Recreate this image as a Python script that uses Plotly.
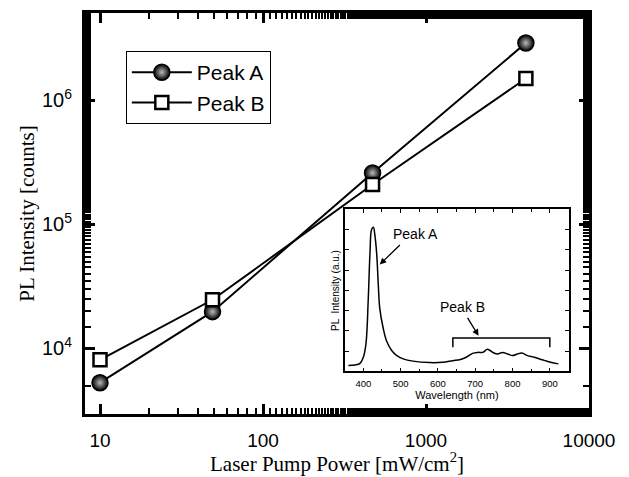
import plotly.graph_objects as go

# Main data
power = [10, 49, 470, 4100]
peak_a = [5300, 19800, 260000, 2900000]
peak_b = [8100, 24700, 210000, 1500000]
y_tickvals = [1e4, 1e5, 1e6]
y_ticktext = ["10<sup>4</sup>", "10<sup>5</sup>", "10<sup>6</sup>"]
x_tickvals = [10, 100, 1000, 10000]
x_ticktext = ["10", "100", "1000", "10000"]
x_title = "Laser Pump Power [mW/cm<sup>2</sup>]"
y_title = "PL Intensity [counts]"

# Inset spectrum
wavelength = [360, 378, 391, 400, 407, 413, 418, 422, 427, 431, 436, 440, 444, 453, 462, 476, 489, 507, 533,
              578, 613, 640, 658, 676, 693, 707, 720, 733, 747, 760, 773, 787, 800, 813, 825, 840, 858, 880, 902, 923]
intensity = [0.037, 0.040, 0.050, 0.088, 0.17, 0.435, 0.742, 0.875, 0.89, 0.84, 0.72, 0.54, 0.39, 0.27, 0.19,
             0.13, 0.10, 0.078, 0.064, 0.055, 0.057, 0.067, 0.072, 0.088, 0.112, 0.118, 0.118, 0.137, 0.118,
             0.108, 0.118, 0.108, 0.098, 0.108, 0.114, 0.098, 0.088, 0.072, 0.057, 0.047]
bracket_x = [640, 640, 900, 900]
bracket_y = [0.149, 0.207, 0.207, 0.149]

fig = go.Figure()
fig.add_trace(go.Scatter(
    x=power, y=peak_a, mode="lines+markers", name="Peak A",
    line=dict(color="black", width=2),
    marker=dict(symbol="circle", size=16, color="black",
                gradient=dict(type="radial", color="#bbbbbb"),
                line=dict(color="black", width=1.5)),
))
fig.add_trace(go.Scatter(
    x=power, y=peak_b, mode="lines+markers", name="Peak B",
    line=dict(color="black", width=2),
    marker=dict(symbol="square", size=13, color="white",
                line=dict(color="black", width=2.5)),
))

fig.add_trace(go.Scatter(
    x=wavelength, y=intensity, mode="lines", line=dict(color="black", width=1.5, shape="spline"),
    xaxis="x2", yaxis="y2", showlegend=False,
))
fig.add_trace(go.Scatter(
    x=bracket_x, y=bracket_y, mode="lines", line=dict(color="black", width=1.5),
    xaxis="x2", yaxis="y2", showlegend=False,
))

fig.add_annotation(x=444, y=0.66, ax=502, ay=0.79, xref="x2", yref="y2", axref="x2", ayref="y2",
                   showarrow=True, arrowhead=2, arrowsize=1, arrowwidth=1.3, arrowcolor="black", text="")
fig.add_annotation(x=539, y=0.85, xref="x2", yref="y2", text="Peak A", showarrow=False,
                   font=dict(family="Liberation Sans, Arial", size=14, color="black"))
fig.add_annotation(x=709, y=0.22, ax=677, ay=0.34, xref="x2", yref="y2", axref="x2", ayref="y2",
                   showarrow=True, arrowhead=2, arrowsize=1, arrowwidth=1.3, arrowcolor="black", text="")
fig.add_annotation(x=667, y=0.40, xref="x2", yref="y2", text="Peak B", showarrow=False,
                   font=dict(family="Liberation Sans, Arial", size=14, color="black"))
fig.add_annotation(x=0.5, y=-0.082, xref="paper", yref="paper", text=x_title, showarrow=False,
                   xanchor="center", yanchor="top",
                   font=dict(family="Liberation Serif, Times New Roman", size=21, color="black"))

fig.update_layout(
    width=629, height=477,
    margin=dict(l=85, r=40, t=10, b=63),
    paper_bgcolor="white", plot_bgcolor="white",
    font=dict(family="Liberation Sans, Arial", color="black"),
    showlegend=True,
    legend=dict(x=0.081, y=0.905, xanchor="left", yanchor="top",
                bordercolor="black", borderwidth=1, bgcolor="white",
                font=dict(family="Liberation Sans, Arial", size=21, color="black"),
                tracegroupgap=0, itemwidth=60),
    xaxis=dict(
        type="log", range=[0.908, 4.0], domain=[0, 1],
        tickvals=x_tickvals, ticktext=x_ticktext,
        ticks="inside", ticklen=10, tickwidth=2.5, tickcolor="black",
        minor=dict(ticks="inside", ticklen=6, tickwidth=2, tickcolor="black", showgrid=False),
        showline=True, linecolor="black", linewidth=3, mirror="allticks",
        showgrid=False, zeroline=False,
        tickfont=dict(family="Liberation Sans, Arial", size=19),
        ticklabelstandoff=7,
    ),
    yaxis=dict(
        type="log", range=[3.472, 6.704], domain=[0, 1],
        tickvals=y_tickvals, ticktext=y_ticktext,
        ticks="inside", ticklen=10, tickwidth=2.5, tickcolor="black",
        minor=dict(ticks="inside", ticklen=6, tickwidth=2, tickcolor="black", showgrid=False),
        showline=True, linecolor="black", linewidth=3, mirror="allticks",
        showgrid=False, zeroline=False,
        tickfont=dict(family="Liberation Sans, Arial", size=20),
        ticklabelstandoff=6,
        title=dict(text=y_title,
                   font=dict(family="Liberation Serif, Times New Roman", size=21), standoff=2),
    ),
    xaxis2=dict(
        anchor="y2", domain=[0.516, 0.960], range=[351, 951],
        tickvals=[400, 500, 600, 700, 800, 900],
        ticks="inside", ticklen=4, tickwidth=1, tickcolor="black",
        minor=dict(dtick=50, tick0=0, ticks="inside", ticklen=3, tickwidth=1, tickcolor="black", showgrid=False),
        showline=True, linecolor="black", linewidth=1.5, mirror="allticks",
        showgrid=False, zeroline=False,
        tickfont=dict(family="Liberation Sans, Arial", size=9.5),
        ticklabelstandoff=2,
        title=dict(text="Wavelength (nm)", font=dict(family="Liberation Sans, Arial", size=11), standoff=2),
    ),
    yaxis2=dict(
        anchor="x2", domain=[0.106, 0.510], range=[0, 1],
        tick0=0, dtick=0.125, showticklabels=False,
        ticks="inside", ticklen=4, tickwidth=1, tickcolor="black",
        showline=True, linecolor="black", linewidth=1.5, mirror="allticks",
        showgrid=False, zeroline=False,
        title=dict(text="PL  Intensity (a.u.)", font=dict(family="Liberation Sans, Arial", size=10), standoff=2),
    ),
)

fig.write_html("out.html", config={"displayModeBar": False},
               post_script="document.body.style.margin='0px';document.body.style.overflow='hidden';")
